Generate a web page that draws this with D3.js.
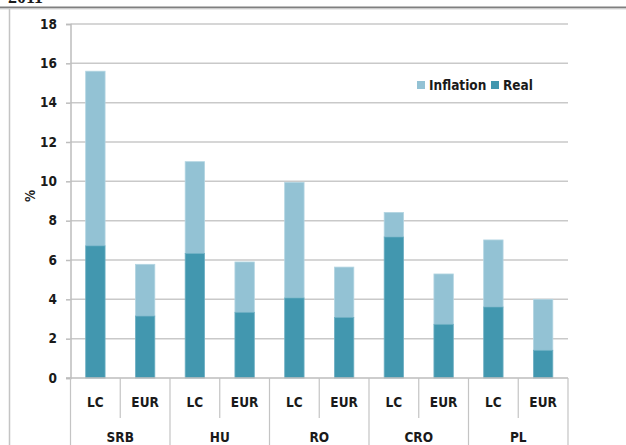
<!DOCTYPE html>
<html lang="en">
  <head>
    <meta charset="UTF-8" />
    <title>Wage growth</title>
    <script src="https://d3js.org/d3.v7.min.js"></script>
    <style>
      body { margin: 0; background: #fff; }
      text { font-family: 'DejaVu Sans Condensed', 'DejaVu Sans', sans-serif; font-weight: bold; fill: #1a1a1a; }
    </style>
  </head>
  <body>
    <svg width="626" height="445"></svg>
    <script>
      // data
      var groups = ['SRB', 'HU', 'RO', 'CRO', 'PL']
      var currencies = ['LC', 'EUR']
      var totals = [15.6, 5.78, 11.0, 5.9, 9.95, 5.64, 8.42, 5.29, 7.02, 4.0]
      var real = [6.72, 3.15, 6.33, 3.34, 4.07, 3.08, 7.17, 2.73, 3.61, 1.41]
      var yTicks = [0, 2, 4, 6, 8, 10, 12, 14, 16, 18]
      var legendLabels = ['Inflation', 'Real']

      var svg = d3.select('svg')
      var colInfl = '#93c2d4'
      var colReal = '#4297af'
      var fs = '13.5px'

      var cats = []
      groups.forEach(function(g) {
        currencies.forEach(function(c) { cats.push(g + '|' + c) })
      })
      var rows = cats.map(function(k, i) {
        return { key: k, cur: k.split('|')[1], real: real[i], total: totals[i] }
      })

      var x = d3.scaleBand().domain(cats).range([70.5, 568]).paddingInner(0.61).paddingOuter(0.305)
      var y = d3.scaleLinear().domain([0, 18]).range([378, 24])
      var step = x.step()

      // frame bits
      svg.append('text').attr('x', 8).attr('y', 3).style('font-family', 'Liberation Serif')
        .style('font-size', '18px').text('2011')
      svg.append('line').attr('x1', 0).attr('x2', 626).attr('y1', 7.5).attr('y2', 7.5)
        .attr('stroke', '#7f7f7f').attr('stroke-width', 2)
      svg.append('line').attr('x1', 0).attr('x2', 626).attr('y1', 9).attr('y2', 9)
        .attr('stroke', '#d8d8d8').attr('stroke-width', 1)
      svg.append('line').attr('x1', 9.5).attr('x2', 9.5).attr('y1', 9).attr('y2', 445)
        .attr('stroke', '#c4c4c4').attr('stroke-width', 1.5)

      // grid
      svg.append('g').selectAll('line').data(yTicks.slice(1)).enter().append('line')
        .attr('x1', 70.5).attr('x2', 568)
        .attr('y1', d => y(d)).attr('y2', d => y(d))
        .attr('stroke', '#c9c9c9').attr('stroke-width', 1.5)

      // y axis
      var yAxis = svg.append('g').attr('transform', 'translate(70.5,0)')
        .call(d3.axisLeft(y).tickValues(yTicks).tickSize(4.5).tickPadding(9).tickFormat(d3.format('d')))
      yAxis.select('.domain').attr('stroke', '#bdbdbd').attr('stroke-width', 1.5)
      yAxis.selectAll('.tick line').attr('stroke', '#bdbdbd').attr('stroke-width', 1.5)
      yAxis.selectAll('.tick text').style('font-size', fs).attr('fill', '#1a1a1a')
        .style('font-family', "'DejaVu Sans Condensed', sans-serif").style('font-weight', 'bold')

      svg.append('text').attr('transform', 'translate(35,196) rotate(-90)')
        .attr('text-anchor', 'middle').style('font-size', fs).text('%')

      // bars
      var bars = svg.append('g')
      bars.selectAll('rect.infl').data(rows).enter().append('rect')
        .attr('x', d => x(d.key)).attr('width', x.bandwidth())
        .attr('y', d => y(d.total)).attr('height', d => y(d.real) - y(d.total))
        .attr('fill', colInfl).attr('stroke', '#b3d5e2').attr('stroke-width', 0.8)
      bars.selectAll('rect.real').data(rows).enter().append('rect')
        .attr('x', d => x(d.key)).attr('width', x.bandwidth())
        .attr('y', d => y(d.real)).attr('height', d => y(0) - y(d.real))
        .attr('fill', colReal).attr('stroke', '#6fb0c4').attr('stroke-width', 0.8)

      // x axis, two levels
      var xa = svg.append('g')
      xa.append('line').attr('x1', 66).attr('x2', 568).attr('y1', 378).attr('y2', 378)
        .attr('stroke', '#bdbdbd').attr('stroke-width', 1.5)
      cats.forEach(function(k, i) {
        var left = x(k) - x.paddingInner() * step / 2
        var isGroup = i % 2 === 0
        xa.append('line').attr('x1', left).attr('x2', left).attr('y1', 378)
          .attr('y2', isGroup ? 445 : 418).attr('stroke', '#c4c4c4').attr('stroke-width', 1.2)
      })
      xa.append('line').attr('x1', 568).attr('x2', 568).attr('y1', 378).attr('y2', 445)
        .attr('stroke', '#c4c4c4').attr('stroke-width', 1.2)
      xa.selectAll('text.cur').data(rows).enter().append('text')
        .attr('x', d => x(d.key) + x.bandwidth() / 2).attr('y', 407)
        .attr('text-anchor', 'middle').style('font-size', fs).text(d => d.cur)
      xa.selectAll('text.grp').data(groups).enter().append('text')
        .attr('x', g => x(g + '|LC') - x.paddingInner() * step / 2 + step)
        .attr('y', 442).attr('text-anchor', 'middle').style('font-size', fs).text(g => g)

      // legend
      var lg = svg.append('g')
      var lx = [417, 491]
      legendLabels.forEach(function(l, i) {
        lg.append('rect').attr('x', lx[i]).attr('y', 81).attr('width', 8).attr('height', 8)
          .attr('fill', i === 0 ? colInfl : colReal)
        lg.append('text').attr('x', lx[i] + 12).attr('y', 90).style('font-size', fs).text(l)
      })
    </script>
  </body>
</html>
